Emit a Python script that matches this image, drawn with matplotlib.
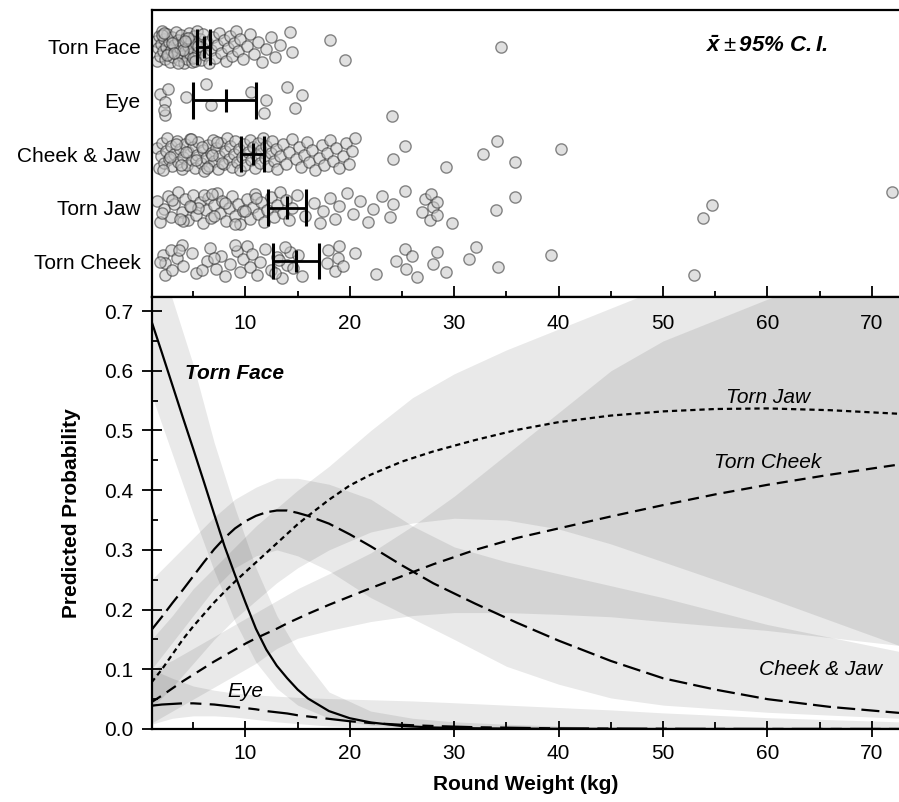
import matplotlib
matplotlib.use('Agg')
import matplotlib.pyplot as plt
import numpy as np

plt.rcParams['font.family'] = ['Liberation Sans', 'DejaVu Sans']
plt.rcParams['lines.scale_dashes'] = False
plt.rcParams['mathtext.fontset'] = 'custom'
plt.rcParams['mathtext.rm'] = 'Liberation Sans'
plt.rcParams['mathtext.it'] = 'Liberation Sans:italic'
plt.rcParams['mathtext.bf'] = 'Liberation Sans:italic:bold'

# ---------------- data: top panel (observed round weights, kg) ----------------
categories = ["Torn Face", "Eye", "Cheek & Jaw", "Torn Jaw", "Torn Cheek"]

torn_face_w = [1.4, 1.5, 1.6, 1.7, 1.8, 1.9, 2.0, 2.1, 2.2, 2.3, 2.4, 2.5, 2.6, 2.7, 2.8, 2.9,
               3.0, 3.1, 3.2, 3.3, 3.4, 3.5, 3.6, 3.7, 3.8, 3.9, 4.0, 4.1, 4.2, 4.3, 4.4, 4.5,
               4.6, 4.7, 4.8, 4.9, 5.0, 5.1, 5.2, 5.3, 5.4, 5.5, 5.6, 5.7, 5.8, 5.9, 6.1, 6.3,
               6.5, 6.7, 6.9, 7.1, 7.3, 7.5, 7.7, 7.9, 8.1, 8.3, 8.5, 8.7, 8.9, 9.1, 9.3, 9.5,
               9.8, 10.1, 10.4, 10.8, 11.2, 11.6, 12.0, 12.4, 12.8, 13.3, 14.3, 14.5, 18.1, 19.5,
               34.5, 2.0, 2.5, 3.0, 3.5, 4.0, 4.5, 5.0, 5.5, 2.2, 3.2, 4.2, 5.2]
eye_w = [1.85, 2.26, 2.3, 2.56, 2.2, 4.34, 6.26, 6.74, 10.57, 11.75, 12.0, 14.0, 14.7, 15.4, 24.06]
cheek_jaw_w = [1.5, 1.7, 1.9, 2.0, 2.2, 2.4, 2.5, 2.7, 2.9, 3.0, 3.2, 3.4, 3.5, 3.7, 3.9, 4.0,
               4.2, 4.4, 4.5, 4.7, 4.9, 5.0, 5.2, 5.4, 5.5, 5.7, 5.9, 6.0, 6.2, 6.4, 6.5, 6.7,
               6.9, 7.0, 7.2, 7.4, 7.5, 7.7, 7.9, 8.0, 8.2, 8.4, 8.5, 8.7, 8.9, 9.0, 9.2, 9.4,
               9.5, 9.7, 9.9, 10.0, 10.2, 10.4, 10.5, 10.7, 10.9, 11.0, 11.2, 11.4, 11.5, 11.7,
               11.9, 12.0, 12.2, 12.4, 12.5, 12.7, 12.9, 13.0, 13.3, 13.6, 13.9, 14.2, 14.5,
               14.8, 15.1, 15.3, 15.6, 15.9, 16.1, 16.4, 16.7, 17.0, 17.3, 17.5, 17.8, 18.1,
               18.4, 18.7, 19.0, 19.3, 19.6, 19.9, 20.2, 20.5, 24.1, 25.3, 29.2, 32.8, 34.1,
               35.8, 40.2, 2.1, 2.8, 3.3, 3.8, 4.3, 4.8, 5.3, 5.8, 6.3, 6.8, 7.3, 7.8]
torn_jaw_w = [1.5, 1.8, 2.2, 2.6, 2.9, 3.2, 3.5, 3.9, 4.2, 4.5, 4.8, 5.0, 5.3, 5.6, 5.9, 6.2,
              6.4, 6.7, 7.0, 7.3, 7.6, 7.8, 8.1, 8.4, 8.7, 9.0, 9.3, 9.5, 9.8, 10.1, 10.4, 10.7,
              10.9, 11.2, 11.5, 11.8, 12.1, 12.4, 12.7, 13.0, 13.3, 13.6, 13.9, 14.2, 14.5,
              14.9, 15.7, 16.6, 17.1, 17.4, 18.1, 18.6, 19.0, 19.7, 20.3, 21.0, 21.7, 22.2,
              23.1, 23.8, 24.1, 25.3, 26.9, 27.2, 27.7, 28.0, 27.8, 28.3, 28.3, 29.8, 34.0,
              35.8, 53.8, 54.7, 71.9, 2.0, 3.0, 4.0, 5.5, 6.0, 7.0, 8.0, 9.0, 10.0, 11.0,
              3.7, 4.7, 6.8]
torn_cheek_w = [2.1, 2.3, 2.3, 2.9, 3.0, 3.4, 3.9, 4.0, 4.9, 5.3, 6.3, 6.6, 7.2, 7.7, 8.0, 8.5,
                9.2, 9.5, 9.8, 10.1, 10.4, 10.6, 11.1, 11.4, 11.9, 12.4, 13.0, 13.5, 14.0, 14.3,
                12.8, 13.2, 13.8, 14.6, 15.0, 15.4, 17.8, 17.9, 18.6, 18.9, 19.0, 19.3, 20.5,
                22.5, 24.4, 25.3, 25.4, 26.0, 26.4, 28.0, 28.3, 29.2, 31.4, 32.1, 34.2, 39.3,
                53.0, 1.8, 3.6, 5.8, 7.0, 9.0]

group_means = [6.0, 8.1, 10.7, 14.0, 14.8]
ci_low = [5.35, 4.95, 9.6, 12.2, 12.6]
ci_high = [6.65, 11.0, 11.75, 15.8, 17.05]

# ---------------- data: bottom panel (predicted probabilities) ----------------
weight_grid = [1, 2, 3, 4, 5, 6, 7, 8, 9, 10, 11, 12, 13, 14, 15, 16, 18, 20, 22, 25, 28, 32,
               36, 40, 45, 50, 55, 60, 66, 72.6]
p_torn_face = [0.683, 0.630, 0.576, 0.522, 0.469, 0.415, 0.360, 0.306, 0.258, 0.212, 0.168,
               0.133, 0.106, 0.085, 0.066, 0.051, 0.030, 0.018, 0.011, 0.005, 0.0025, 0.0012,
               0.0006, 0.0003, 0.0001, 0.0, 0.0, 0.0, 0.0, 0.0]
p_cheek_jaw = [0.166, 0.188, 0.211, 0.233, 0.256, 0.279, 0.301, 0.320, 0.336, 0.348, 0.357,
               0.363, 0.366, 0.366, 0.362, 0.357, 0.344, 0.326, 0.306, 0.274, 0.244, 0.210,
               0.178, 0.148, 0.114, 0.085, 0.066, 0.050, 0.037, 0.027]
p_torn_jaw = [0.078, 0.100, 0.125, 0.150, 0.172, 0.192, 0.212, 0.230, 0.247, 0.263, 0.279,
              0.295, 0.311, 0.327, 0.343, 0.357, 0.384, 0.408, 0.426, 0.448, 0.465, 0.484,
              0.501, 0.514, 0.525, 0.532, 0.536, 0.537, 0.534, 0.528]
p_torn_cheek = [0.045, 0.056, 0.068, 0.080, 0.091, 0.102, 0.113, 0.123, 0.133, 0.143, 0.152,
                0.160, 0.168, 0.177, 0.185, 0.193, 0.208, 0.222, 0.236, 0.256, 0.276, 0.300,
                0.320, 0.336, 0.356, 0.375, 0.393, 0.409, 0.426, 0.443]
p_eye = [0.039, 0.041, 0.042, 0.043, 0.043, 0.042, 0.041, 0.039, 0.037, 0.035, 0.033, 0.030,
         0.028, 0.026, 0.023, 0.021, 0.017, 0.013, 0.010, 0.007, 0.005, 0.003, 0.002, 0.001,
         0.0007, 0.0004, 0.0002, 0.0001, 0.0001, 0.0]

band_grid = [1, 3, 5, 7, 9, 11, 13, 15, 18, 22, 26, 30, 35, 40, 45, 50, 60, 72.6]
tf_lo = [0.56, 0.46, 0.36, 0.265, 0.18, 0.112, 0.068, 0.04, 0.018, 0.006, 0.002, 0.001, 0, 0, 0, 0, 0, 0]
tf_hi = [0.80, 0.72, 0.61, 0.48, 0.37, 0.27, 0.19, 0.13, 0.062, 0.03, 0.018, 0.012, 0.008,
         0.005, 0.003, 0.002, 0.001, 0.0005]
eye_lo = [0.008, 0.018, 0.022, 0.022, 0.02, 0.016, 0.012, 0.009, 0.005, 0.003, 0.001, 0, 0, 0, 0, 0, 0, 0]
eye_hi = [0.10, 0.085, 0.072, 0.065, 0.06, 0.057, 0.055, 0.053, 0.051, 0.049, 0.047, 0.044,
          0.040, 0.036, 0.032, 0.027, 0.019, 0.012]
cj_lo = [0.10, 0.145, 0.19, 0.235, 0.27, 0.29, 0.30, 0.29, 0.265, 0.22, 0.185, 0.15, 0.105,
         0.075, 0.052, 0.04, 0.028, 0.018]
cj_hi = [0.25, 0.285, 0.32, 0.355, 0.385, 0.405, 0.42, 0.42, 0.41, 0.385, 0.34, 0.305, 0.28,
         0.26, 0.24, 0.22, 0.175, 0.13]
tc_lo = [0.01, 0.03, 0.05, 0.07, 0.09, 0.11, 0.135, 0.152, 0.165, 0.18, 0.19, 0.195, 0.195,
         0.192, 0.188, 0.18, 0.165, 0.14]
tc_hi = [0.10, 0.115, 0.135, 0.155, 0.175, 0.195, 0.215, 0.235, 0.26, 0.295, 0.34, 0.39, 0.46,
         0.53, 0.60, 0.65, 0.72, 0.80]
tj_lo = [0.035, 0.07, 0.11, 0.15, 0.185, 0.215, 0.245, 0.27, 0.30, 0.33, 0.345, 0.353, 0.35,
         0.335, 0.31, 0.28, 0.22, 0.14]
tj_hi = [0.15, 0.19, 0.235, 0.27, 0.305, 0.34, 0.37, 0.40, 0.44, 0.50, 0.555, 0.595, 0.635,
         0.67, 0.705, 0.74, 0.81, 0.90]

# ---------------- figure ----------------
W, H = 899, 802
fig = plt.figure(figsize=(W / 100, H / 100), dpi=100)


def rect(l, t, r, b):
    return [l / W, 1 - b / H, (r - l) / W, (b - t) / H]


XLIM = (1.0, 72.6)
ax_top = fig.add_axes(rect(151.5, 10, 899, 297))
ax = fig.add_axes(rect(151.5, 297, 899, 729))

# ---- top panel ----
groups = [torn_face_w, eye_w, cheek_jaw_w, torn_jaw_w, torn_cheek_w]
for gi, w in enumerate(groups):
    n = len(w)
    jitter = ((np.arange(n) * 0.6180339887 + 0.31) % 1.0 - 0.5) * 0.62
    ax_top.scatter(w, gi + jitter, s=66, facecolor='#c8c8c8', edgecolor='#2a2a2a',
                   linewidths=1.0, alpha=0.55, zorder=2)
    ax_top.hlines(gi, ci_low[gi], ci_high[gi], color='black', lw=2.0, zorder=4)
    ax_top.vlines([ci_low[gi], ci_high[gi]], gi - 0.34, gi + 0.34, color='black', lw=2.2, zorder=4)
    ax_top.vlines(group_means[gi], gi - 0.21, gi + 0.21, color='black', lw=2.2, zorder=4)

ax_top.set_xlim(XLIM)
ax_top.set_ylim(4.67, -0.69)
ax_top.set_yticks(range(len(categories)))
ax_top.set_yticklabels(categories, fontsize=15)
ax_top.tick_params(axis='y', length=0, pad=8)
ax_top.set_xticks([10, 20, 30, 40, 50, 60, 70])
ax_top.set_xticks([5, 15, 25, 35, 45, 55, 65], minor=True)
ax_top.tick_params(axis='x', which='major', direction='in', length=8, width=1.3, labelbottom=False)
ax_top.tick_params(axis='x', which='minor', direction='in', length=4, width=1.3)
ax_top.spines['right'].set_visible(False)
for s in ['left', 'top', 'bottom']:
    ax_top.spines[s].set_linewidth(1.6)
ax_top.text(60.0, 0, r'$\mathbf{\bar{x}}\pm\mathbf{95\%\ C.I.}$', fontsize=16,
            ha='center', va='center')

# ---- bottom panel ----
bands = [(tf_lo, tf_hi), (eye_lo, eye_hi), (cj_lo, cj_hi), (tc_lo, tc_hi), (tj_lo, tj_hi)]
for lo, hi in bands:
    ax.fill_between(band_grid, lo, hi, color='black', alpha=0.088, lw=0, zorder=1)

ax.plot(weight_grid, p_torn_face, color='black', lw=1.6, zorder=3)
ax.plot(weight_grid, p_cheek_jaw, color='black', lw=1.6, dashes=(13, 4.5), zorder=3)
ax.plot(weight_grid, p_torn_cheek, color='black', lw=1.6, dashes=(8, 5), zorder=3)
ax.plot(weight_grid, p_torn_jaw, color='black', lw=1.6, dashes=(3.8, 2.8), zorder=3)
ax.plot(weight_grid, p_eye, color='black', lw=1.6, dashes=(22, 6, 8, 6), zorder=3)

ax.text(4.2, 0.596, 'Torn Face', fontsize=15, fontweight='bold', fontstyle='italic',
        ha='left', va='center')
ax.text(60.1, 0.556, 'Torn Jaw', fontsize=15, fontstyle='italic', ha='center', va='center')
ax.text(60.0, 0.447, 'Torn Cheek', fontsize=15, fontstyle='italic', ha='center', va='center')
ax.text(65.1, 0.099, 'Cheek & Jaw', fontsize=15, fontstyle='italic', ha='center', va='center')
ax.text(9.95, 0.062, 'Eye', fontsize=15, fontstyle='italic', ha='center', va='center')

ax.set_xlim(XLIM)
ax.set_ylim(0, 0.7236)
ax.set_yticks([0.0, 0.1, 0.2, 0.3, 0.4, 0.5, 0.6, 0.7])
ax.set_yticklabels(['0.0', '0.1', '0.2', '0.3', '0.4', '0.5', '0.6', '0.7'])
ax.set_yticks([0.05, 0.15, 0.25, 0.35, 0.45, 0.55, 0.65], minor=True)
ax.set_xticks([10, 20, 30, 40, 50, 60, 70])
ax.set_xticks([5, 15, 25, 35, 45, 55, 65], minor=True)
ax.tick_params(axis='y', which='major', direction='inout', length=14, width=1.3, labelsize=15, pad=6)
ax.tick_params(axis='y', which='minor', direction='in', length=4, width=1.3)
ax.tick_params(axis='x', which='major', direction='inout', length=11, width=1.3, labelsize=15, pad=5)
ax.tick_params(axis='x', which='minor', direction='in', length=5, width=1.3)
ax.spines['right'].set_visible(False)
for s in ['left', 'top', 'bottom']:
    ax.spines[s].set_linewidth(1.6)
ax.set_xlabel('Round Weight (kg)', fontsize=15, fontweight='bold', labelpad=9)
ax.set_ylabel('Predicted Probability', fontsize=15, fontweight='bold', labelpad=17)

ax2 = ax.twiny()
ax2.set_xlim(XLIM)
ax2.set_xticks([10, 20, 30, 40, 50, 60, 70])
ax2.tick_params(axis='x', direction='in', length=0, pad=-26, labelsize=15)
for s in ax2.spines.values():
    s.set_visible(False)

fig.savefig('out.png', dpi=100)
